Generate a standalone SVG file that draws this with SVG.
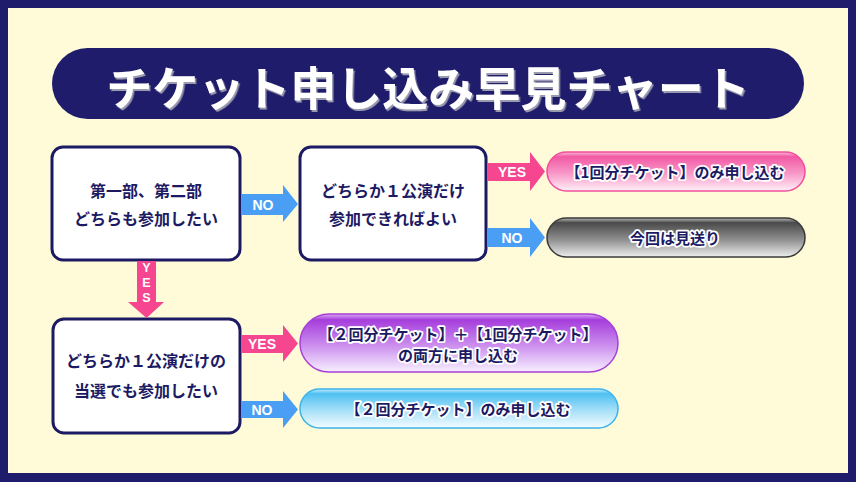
<svg xmlns="http://www.w3.org/2000/svg" width="856" height="482" viewBox="0 0 856 482">
<style>
.jp{font-family:"Noto Sans CJK JP","Noto Sans",sans-serif;font-weight:700;text-anchor:middle;dominant-baseline:central}
.box{fill:#ffffff;stroke:#1c1a63;stroke-width:3}
.bt{fill:#1c1a63;font-size:16px}
.pt{fill:#1c1a63;stroke:#ffffff;stroke-width:3.5;paint-order:stroke;stroke-linejoin:round;font-size:15px}
.lbl{font-family:"Liberation Sans",Arial,sans-serif;font-weight:700;font-size:14px;fill:#ffffff;text-anchor:middle;dominant-baseline:central}
.vl{font-size:12.5px}
.pink{fill:#f5468f}
.blue{fill:#4a9ff5}
</style>
<defs>
<linearGradient id="gPink" x1="0" y1="0" x2="0" y2="1">
<stop offset="0" stop-color="#fbb8d8"/><stop offset="0.12" stop-color="#f25aa5"/><stop offset="0.55" stop-color="#f898c8"/><stop offset="1" stop-color="#fff0f8"/>
</linearGradient>
<linearGradient id="gGray" x1="0" y1="0" x2="0" y2="1">
<stop offset="0" stop-color="#bdbdbd"/><stop offset="0.12" stop-color="#4a4a4a"/><stop offset="0.55" stop-color="#8e8e8e"/><stop offset="1" stop-color="#eeeeee"/>
</linearGradient>
<linearGradient id="gPurple" x1="0" y1="0" x2="0" y2="1">
<stop offset="0" stop-color="#dcaaf4"/><stop offset="0.1" stop-color="#a63ddc"/><stop offset="0.55" stop-color="#cc90ee"/><stop offset="1" stop-color="#f8f0ff"/>
</linearGradient>
<linearGradient id="gBlue" x1="0" y1="0" x2="0" y2="1">
<stop offset="0" stop-color="#c4ecfc"/><stop offset="0.12" stop-color="#4fc0f2"/><stop offset="0.55" stop-color="#a6e0f8"/><stop offset="1" stop-color="#f4fcff"/>
</linearGradient>
<filter id="sh" x="-5%" y="-20%" width="110%" height="140%">
<feDropShadow dx="1.5" dy="2" stdDeviation="0.6" flood-color="#9a9aae" flood-opacity="1"/>
</filter>
</defs>

<rect x="0" y="0" width="856" height="482" fill="#1f1d6b"/>
<rect x="8" y="8" width="840" height="465" fill="#fffbd8"/>

<g id="title">
<rect x="52" y="48" width="752" height="71" rx="35.5" fill="#1f1d6b"/>
<text class="jp" x="428" y="85" font-size="46" font-weight="900" fill="#ffffff" filter="url(#sh)">チケット申し込み早見チャート</text>
</g>

<g id="q1">
<rect class="box" x="52" y="147" width="188" height="113" rx="11"/>
<text class="jp bt" x="146" y="190">第一部、第二部</text>
<text class="jp bt" x="146" y="218">どちらも参加したい</text>
</g>

<g id="q2">
<rect class="box" x="300" y="147" width="186" height="113" rx="11"/>
<text class="jp bt" x="393" y="190">どちらか１公演だけ</text>
<text class="jp bt" x="393" y="218">参加できればよい</text>
</g>

<g id="q3">
<rect class="box" x="53" y="319" width="187" height="114" rx="11"/>
<text class="jp bt" x="146" y="360">どちらか１公演だけの</text>
<text class="jp bt" x="146" y="390">当選でも参加したい</text>
</g>

<g id="r1">
<rect x="547" y="152" width="258" height="39" rx="19.5" fill="url(#gPink)" stroke="#f0509a" stroke-width="1.5"/>
<text class="jp pt" x="675" y="171.5">【1回分チケット】のみ申し込む</text>
</g>

<g id="r2">
<rect x="547" y="218" width="258" height="39" rx="19.5" fill="url(#gGray)" stroke="#3a3a3a" stroke-width="1.5"/>
<text class="jp pt" x="675" y="237.5" font-size="16">今回は見送り</text>
</g>

<g id="r3">
<rect x="300" y="314" width="318" height="58" rx="29" fill="url(#gPurple)" stroke="#a640d8" stroke-width="1.5"/>
<text class="jp pt" x="458" y="333" font-size="14.5">【２回分チケット】＋【1回分チケット】</text>
<text class="jp pt" x="458" y="354">の両方に申し込む</text>
</g>

<g id="r4">
<rect x="300" y="389" width="318" height="39" rx="19.5" fill="url(#gBlue)" stroke="#3cb4ec" stroke-width="1.5"/>
<text class="jp pt" x="458" y="408.5">【２回分チケット】のみ申し込む</text>
</g>

<g id="connectors">
<g id="a1">
<polygon class="blue" points="241,194 283,194 283,185 298,204 283,222 283,215 241,215"/>
<text class="lbl" x="263" y="205">NO</text>
</g>
<g id="a2">
<polygon class="pink" points="487,163 530,163 530,152 545,171.5 530,191 530,181 487,181"/>
<text class="lbl" x="512" y="172">YES</text>
</g>
<g id="a3">
<polygon class="blue" points="487,228 530,228 530,218 545,237.5 530,257 530,247 487,247"/>
<text class="lbl" x="512" y="238">NO</text>
</g>
<g id="a4">
<polygon class="pink" points="137,261 156,261 156,302 164,302 146.5,318 128,302 137,302"/>
<text class="lbl vl" x="146.5" y="268">Y</text>
<text class="lbl vl" x="146.5" y="283">E</text>
<text class="lbl vl" x="146.5" y="298">S</text>
</g>
<g id="a5">
<polygon class="pink" points="241,335 283,335 283,325 298,343.5 283,362 283,353 241,353"/>
<text class="lbl" x="262" y="344">YES</text>
</g>
<g id="a6">
<polygon class="blue" points="241,401 283,401 283,391 298,409.5 283,428 283,418 241,418"/>
<text class="lbl" x="262" y="410">NO</text>
</g>
</g>
</svg>
